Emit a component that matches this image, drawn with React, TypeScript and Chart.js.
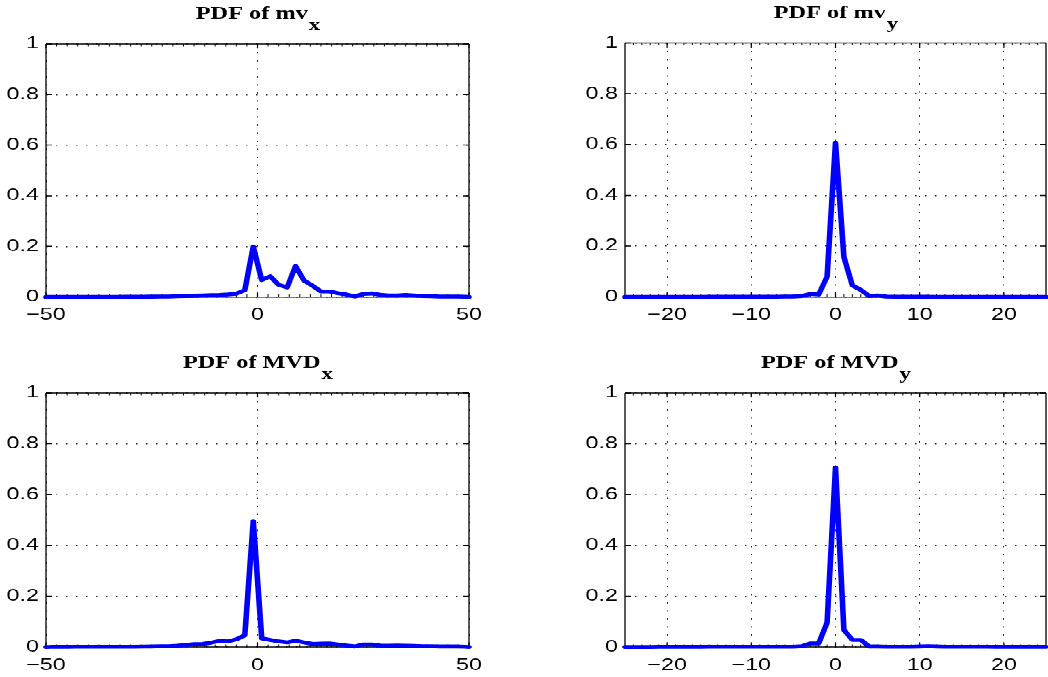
import React, { useEffect, useRef } from "react";
import { Chart, registerables } from "chart.js";

Chart.register(...registerables);

// ---------- data ----------
const xBinsWide = [
  -50, -49, -47, -45, -43, -41, -39, -37, -35, -33, -31, -29, -27, -25, -23, -21, -19, -17, -15, -13, -11, -9, -7, -5, -3, -1,
  1, 3, 5, 7, 9, 11, 13, 15, 17, 19, 21, 23, 25, 27, 29, 31, 33, 35, 37, 39, 41, 43, 45, 47, 49, 50,
];
const pdfMvX = [
  0, 0, 0, 0, 0, 0, 0, 0, 0.0005, 0.0005, 0.001, 0.001, 0.001, 0.0015, 0.002, 0.002, 0.003, 0.004, 0.005, 0.006, 0.007, 0.008, 0.01, 0.013, 0.027, 0.199,
  0.067, 0.082, 0.048, 0.038, 0.122, 0.065, 0.045, 0.022, 0.022, 0.015, 0.01, 0.002, 0.012, 0.014, 0.009, 0.006, 0.006, 0.008, 0.006, 0.004, 0.003, 0.002, 0.002, 0.002, 0.001, 0,
];
const pdfMvdX = [
  0, 0.0005, 0.0005, 0.0005, 0.001, 0.001, 0.001, 0.001, 0.001, 0.001, 0.001, 0.001, 0.0015, 0.002, 0.003, 0.003, 0.005, 0.008, 0.011, 0.012, 0.017, 0.024, 0.022, 0.03, 0.046, 0.496,
  0.034, 0.028, 0.022, 0.018, 0.025, 0.018, 0.012, 0.013, 0.014, 0.01, 0.006, 0.002, 0.01, 0.01, 0.006, 0.005, 0.006, 0.005, 0.004, 0.003, 0.003, 0.002, 0.002, 0.002, 0.001, 0,
];
const xBinsNarrow = [
  -25, -24, -23, -22, -21, -20, -19, -18, -17, -16, -15, -14, -13, -12, -11, -10, -9, -8, -7, -6, -5, -4, -3, -2, -1,
  0, 1, 2, 3, 4, 5, 6, 7, 8, 9, 10, 11, 12, 13, 14, 15, 16, 17, 18, 19, 20, 21, 22, 23, 24, 25,
];
const pdfMvY = [
  0, 0, 0, 0, 0, 0.0005, 0.0005, 0.0005, 0.0005, 0.0005, 0.001, 0.001, 0.001, 0.001, 0.001, 0.001, 0.001, 0.001, 0.001, 0.002, 0.002, 0.004, 0.012, 0.01, 0.08,
  0.607, 0.157, 0.046, 0.028, 0.004, 0.006, 0.002, 0.001, 0.001, 0.001, 0.001, 0.001, 0.0005, 0.0005, 0.0005, 0.0005, 0.0005, 0.0005, 0.0005, 0.0005, 0.0005, 0.0005, 0.0005, 0.0005, 0.0005, 0.0005,
];
const pdfMvdY = [
  0, 0, 0, 0, 0.0005, 0.0005, 0.0005, 0.0005, 0.0005, 0.0005, 0.001, 0.001, 0.001, 0.001, 0.001, 0.001, 0.001, 0.001, 0.001, 0.001, 0.001, 0.003, 0.014, 0.014, 0.096,
  0.706, 0.067, 0.028, 0.028, 0.002, 0.002, 0.001, 0.001, 0.001, 0.001, 0.002, 0.003, 0.002, 0.001, 0.001, 0.001, 0.001, 0.001, 0.001, 0.0005, 0.0005, 0.0005, 0.0005, 0.0005, 0.0005, 0.0005,
];

const yTicks = [0, 0.2, 0.4, 0.6, 0.8, 1];
const yTickLabels = ["0", "0.2", "0.4", "0.6", "0.8", "1"];
const xTicksWide = [-50, 0, 50];
const xTickLabelsWide = ["\u221250", "0", "50"];
const xTicksNarrow = [-20, -10, 0, 10, 20];
const xTickLabelsNarrow = ["\u221220", "\u221210", "0", "10", "20"];

const titleMain = ["PDF of mv", "PDF of mv", "PDF of MVD", "PDF of MVD"];
const titleSub = ["x", "y", "x", "y"];

// ---------- layout ----------
const W = 1048;
const H = 677;
const HI = 968; // internal canvas height (compressed vertically for wide glyphs)
const S = HI / H;

type Panel = {
  main: string;
  sub: string;
  xs: number[];
  ys: number[];
  xMin: number;
  xMax: number;
  xTicks: number[];
  xLabels: string[];
  minor: number;
  L: number;
  R: number;
  T: number;
  B: number;
  yw: number;
};

const panels: Panel[] = [
  { main: titleMain[0], sub: titleSub[0], xs: xBinsWide, ys: pdfMvX, xMin: -50, xMax: 50, xTicks: xTicksWide, xLabels: xTickLabelsWide, minor: 2.5, L: 46, R: 469, T: 44, B: 297, yw: 46 },
  { main: titleMain[1], sub: titleSub[1], xs: xBinsNarrow, ys: pdfMvY, xMin: -25, xMax: 25, xTicks: xTicksNarrow, xLabels: xTickLabelsNarrow, minor: 1, L: 625, R: 1046, T: 43, B: 297, yw: 60 },
  { main: titleMain[2], sub: titleSub[2], xs: xBinsWide, ys: pdfMvdX, xMin: -50, xMax: 50, xTicks: xTicksWide, xLabels: xTickLabelsWide, minor: 2.5, L: 46, R: 469, T: 393, B: 647, yw: 46 },
  { main: titleMain[3], sub: titleSub[3], xs: xBinsNarrow, ys: pdfMvdY, xMin: -25, xMax: 25, xTicks: xTicksNarrow, xLabels: xTickLabelsNarrow, minor: 1, L: 625, R: 1046, T: 393, B: 647, yw: 60 },
];

function findLabel(vals: number[], labels: string[], v: number) {
  const i = vals.findIndex((t) => Math.abs(t - v) < 1e-9);
  return i >= 0 ? labels[i] : "";
}

function makeChart(canvas: HTMLCanvasElement, p: Panel) {
  const xh = 40;
  const Ti = p.T * S;
  const Bi = p.B * S;
  const tickFont = { family: '"Liberation Sans", Arial, sans-serif', size: 16.3 * S };

  const frame = {
    id: "frame",
    beforeDatasetsDraw(chart: any) {
      const { ctx, chartArea: a, scales } = chart;
      const xs = scales.x;
      const ys = scales.y;
      ctx.save();
      ctx.strokeStyle = "#000";
      ctx.setLineDash([]);
      // box
      ctx.lineWidth = 1.5;
      ctx.beginPath();
      ctx.moveTo(a.left, a.top);
      ctx.lineTo(a.right, a.top);
      ctx.moveTo(a.left, a.bottom);
      ctx.lineTo(a.right, a.bottom);
      ctx.stroke();
      ctx.lineWidth = 1.3;
      ctx.beginPath();
      ctx.moveTo(a.left, a.top);
      ctx.lineTo(a.left, a.bottom);
      ctx.moveTo(a.right, a.top);
      ctx.lineTo(a.right, a.bottom);
      ctx.stroke();
      // minor x ticks
      ctx.lineWidth = 1;
      ctx.beginPath();
      const n = Math.round((p.xMax - p.xMin) / p.minor);
      for (let k = 1; k < n; k++) {
        const px = xs.getPixelForValue(p.xMin + k * p.minor);
        ctx.moveTo(px, a.top);
        ctx.lineTo(px, a.top + 2.5 * S);
        ctx.moveTo(px, a.bottom);
        ctx.lineTo(px, a.bottom - 2.5 * S);
      }
      ctx.stroke();
      // major ticks
      ctx.lineWidth = 1.2;
      ctx.beginPath();
      for (const v of p.xTicks) {
        const px = xs.getPixelForValue(v);
        ctx.moveTo(px, a.top);
        ctx.lineTo(px, a.top + 4.5 * S);
        ctx.moveTo(px, a.bottom);
        ctx.lineTo(px, a.bottom - 4.5 * S);
      }
      ctx.stroke();
      ctx.lineWidth = 1.5;
      ctx.beginPath();
      for (const v of yTicks) {
        const py = ys.getPixelForValue(v);
        ctx.moveTo(a.left, py);
        ctx.lineTo(a.left + 6, py);
        ctx.moveTo(a.right, py);
        ctx.lineTo(a.right - 6, py);
      }
      ctx.stroke();
      ctx.restore();
    },
    afterDraw(chart: any) {
      const { ctx, chartArea: a } = chart;
      ctx.save();
      ctx.fillStyle = "#000";
      ctx.textBaseline = "alphabetic";
      ctx.textAlign = "left";
      const fMain = `bold ${17 * S}px "Liberation Serif", "Times New Roman", serif`;
      const fSub = `bold ${16 * S}px "Liberation Serif", "Times New Roman", serif`;
      ctx.font = fMain;
      const w1 = ctx.measureText(p.main).width;
      ctx.font = fSub;
      const w2 = ctx.measureText(p.sub).width;
      const x0 = (a.left + a.right) / 2 - (w1 + w2) / 2;
      ctx.font = fMain;
      ctx.fillText(p.main, x0, a.top - 25 * S);
      ctx.font = fSub;
      ctx.fillText(p.sub, x0 + w1 + 1, a.top - 14 * S);
      ctx.restore();
    },
  };

  return new Chart(canvas, {
    type: "scatter",
    data: {
      datasets: [
        {
          data: p.xs.map((x, i) => ({ x, y: p.ys[i] })),
          showLine: true,
          borderColor: "#0000ff",
          borderWidth: 5.6,
          borderJoinStyle: "round",
          borderCapStyle: "round",
          pointRadius: 0,
          pointHoverRadius: 0,
          tension: 0,
          clip: false,
        } as any,
      ],
    },
    options: {
      animation: false,
      responsive: false,
      devicePixelRatio: 1,
      events: [],
      layout: {
        padding: {
          left: p.L - p.yw,
          right: W - p.R,
          top: Ti,
          bottom: Math.max(0, HI - Bi - xh),
        },
      },
      plugins: { legend: { display: false }, tooltip: { enabled: false }, title: { display: false } },
      scales: {
        x: {
          type: "linear",
          min: p.xMin,
          max: p.xMax,
          afterBuildTicks: (s: any) => {
            s.ticks = p.xTicks.map((v) => ({ value: v }));
          },
          afterFit: (s: any) => {
            s.height = xh;
            s.paddingLeft = 0;
            s.paddingRight = 0;
            s.paddingTop = 0;
            s.paddingBottom = 0;
          },
          ticks: {
            callback: (v: any) => findLabel(p.xTicks, p.xLabels, Number(v)),
            font: tickFont,
            color: "#000",
            padding: 12,
            maxRotation: 0,
            minRotation: 0,
            autoSkip: false,
          },
          grid: { color: "#222", lineWidth: 1, drawTicks: false },
          border: { display: false, dash: [2, 9.5] },
        },
        y: {
          type: "linear",
          min: 0,
          max: 1,
          afterBuildTicks: (s: any) => {
            s.ticks = yTicks.map((v) => ({ value: v }));
          },
          afterFit: (s: any) => {
            s.width = p.yw;
            s.paddingLeft = 0;
            s.paddingRight = 0;
            s.paddingTop = 0;
            s.paddingBottom = 0;
          },
          ticks: {
            callback: (v: any) => findLabel(yTicks, yTickLabels, Number(v)),
            font: tickFont,
            color: "#000",
            padding: 7,
            autoSkip: false,
          },
          grid: { color: "#222", lineWidth: 1.4, drawTicks: false },
          border: { display: false, dash: [1.5, 8.5] },
        },
      },
    } as any,
    plugins: [frame as any],
  });
}

function PanelCanvas({ p }: { p: Panel }) {
  const ref = useRef<HTMLCanvasElement | null>(null);
  useEffect(() => {
    if (!ref.current) return;
    const c = makeChart(ref.current, p);
    return () => c.destroy();
  }, [p]);
  return (
    <canvas
      ref={ref}
      width={W}
      height={HI}
      style={{ position: "absolute", left: 0, top: 0, width: `${W}px`, height: `${HI}px` }}
    />
  );
}

export default function App() {
  return (
    <div
      style={{
        position: "fixed",
        left: 0,
        top: 0,
        width: `${W}px`,
        height: `${H}px`,
        overflow: "hidden",
        background: "#fff",
      }}
    >
      <div
        style={{
          position: "absolute",
          left: 0,
          top: 0,
          width: `${W}px`,
          height: `${HI}px`,
          transform: `scale(1, ${1 / S})`,
          transformOrigin: "0 0",
        }}
      >
        {panels.map((p, i) => (
          <PanelCanvas key={i} p={p} />
        ))}
      </div>
    </div>
  );
}
